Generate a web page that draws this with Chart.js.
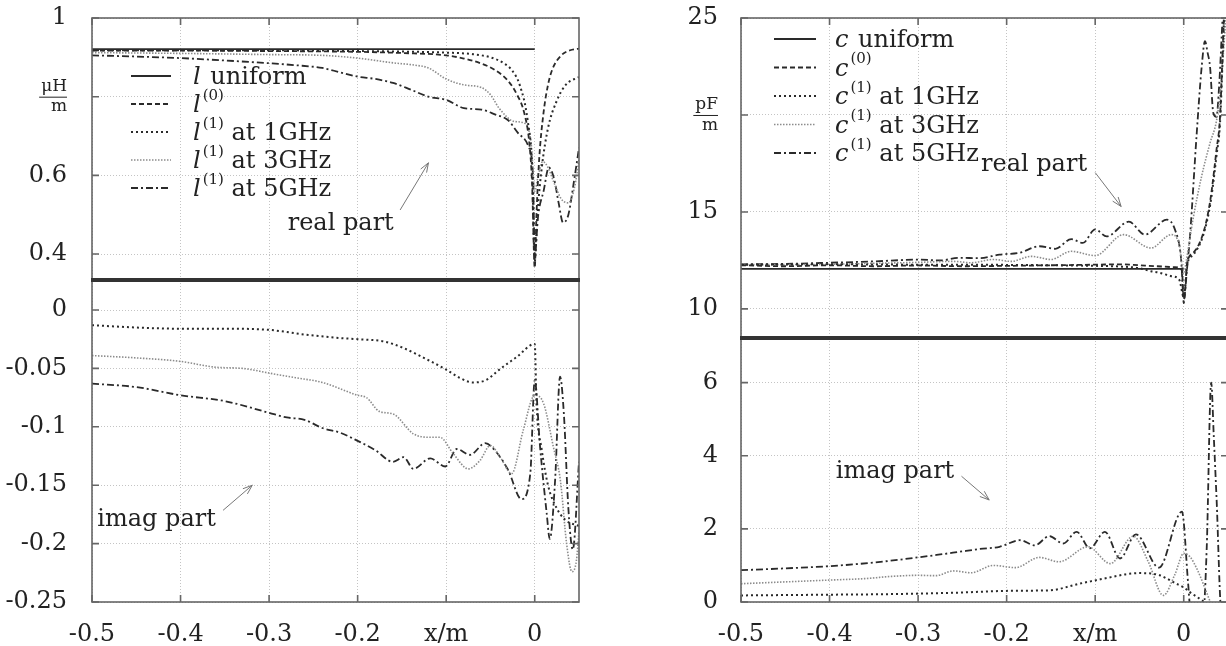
<!DOCTYPE html>
<html>
<head>
<meta charset="utf-8">
<script src="https://cdn.jsdelivr.net/npm/chart.js@4.4.1/dist/chart.umd.min.js"></script>
<style>
  body { margin: 0; background: #fff; width: 1226px; height: 646px; overflow: hidden; position: relative; }
  canvas { position: absolute; }
</style>
</head>
<body>
<canvas id="lRe" width="582" height="282" style="left:0;top:0"></canvas>
<canvas id="lIm" width="582" height="370" style="left:0;top:276px"></canvas>
<canvas id="cRe" width="630" height="340" style="left:600px;top:0"></canvas>
<canvas id="cIm" width="630" height="312" style="left:600px;top:334px"></canvas>
<script>
// ---- axes ----
const xTicks = [-0.5, -0.4, -0.3, -0.2, -0.1, 0];
const xTickLabels = ['-0.5', '-0.4', '-0.3', '-0.2', 'x/m', '0'];

const lReTicks = [0.4, 0.6, 0.8, 1];
const lReTickLabels = ['0.4', '0.6', ['μH', 'm'], '1'];
const lImTicks = [-0.25, -0.2, -0.15, -0.1, -0.05, 0];
const lImTickLabels = ['-0.25', '-0.2', '-0.15', '-0.1', '-0.05', '0'];
const cReTicks = [10, 15, 20, 25];
const cReTickLabels = ['10', '15', ['pF', 'm'], '25'];
const cImTicks = [0, 2, 4, 6];
const cImTickLabels = ['0', '2', '4', '6'];

const lLabels = ['l uniform', 'l^(0)', 'l^(1) at 1GHz', 'l^(1) at 3GHz', 'l^(1) at 5GHz'];
const cLabels = ['c uniform', 'c^(0)', 'c^(1) at 1GHz', 'c^(1) at 3GHz', 'c^(1) at 5GHz'];

// ---- l, real part ----
const lUniX = [-0.5, 0];
const lUniRe = [0.921, 0.921];
const l0X = [-0.5, -0.4, -0.3, -0.2, -0.15, -0.1, -0.08, -0.06, -0.045, -0.03, -0.02, -0.012, -0.006, -0.003, 0, 0.002, 0.005, 0.01, 0.015, 0.02, 0.03, 0.04, 0.05];
const l0Re = [0.917, 0.917, 0.916, 0.914, 0.911, 0.905, 0.897, 0.884, 0.868, 0.84, 0.805, 0.76, 0.68, 0.58, 0.365, 0.5, 0.64, 0.76, 0.83, 0.87, 0.905, 0.918, 0.922];
const l1ReX = [-0.5, -0.4, -0.3, -0.2, -0.1, -0.07, -0.05, -0.035, -0.025, -0.017, -0.008, -0.003, 0, 0.003, 0.008, 0.015, 0.025, 0.035, 0.05];
const l1Re = [0.918, 0.918, 0.918, 0.916, 0.912, 0.908, 0.9, 0.885, 0.865, 0.83, 0.74, 0.62, 0.38, 0.5, 0.62, 0.72, 0.79, 0.83, 0.85];
const l3ReX = [-0.5, -0.4, -0.3, -0.24, -0.2, -0.16, -0.135, -0.12, -0.1, -0.08, -0.06, -0.05, -0.04, -0.023, -0.012, -0.004, 0, 0.004, 0.009, 0.015, 0.022, 0.03, 0.038, 0.045, 0.05];
const l3Re = [0.912, 0.91, 0.907, 0.905, 0.898, 0.886, 0.88, 0.873, 0.845, 0.83, 0.823, 0.805, 0.77, 0.737, 0.733, 0.68, 0.56, 0.6, 0.635, 0.62, 0.58, 0.54, 0.53, 0.57, 0.64];
const l5ReX = [-0.5, -0.45, -0.4, -0.35, -0.3, -0.27, -0.24, -0.22, -0.2, -0.18, -0.16, -0.14, -0.12, -0.1, -0.08, -0.06, -0.045, -0.03, -0.019, -0.007, -0.002, 0, 0.004, 0.01, 0.016, 0.022, 0.027, 0.032, 0.038, 0.044, 0.05];
const l5Re = [0.905, 0.902, 0.898, 0.892, 0.885, 0.88, 0.873, 0.862, 0.851, 0.845, 0.835, 0.818, 0.8, 0.792, 0.771, 0.767, 0.755, 0.74, 0.708, 0.673, 0.6, 0.4, 0.5, 0.56, 0.62, 0.59, 0.53, 0.48, 0.5, 0.58, 0.67];

// ---- l, imag part ----
const l1ImX = [-0.5, -0.45, -0.4, -0.35, -0.3, -0.26, -0.22, -0.2, -0.17, -0.15, -0.12, -0.1, -0.085, -0.07, -0.055, -0.04, -0.02, 0, 0.002, 0.008, 0.015, 0.025, 0.035, 0.05];
const l1Im = [-0.013, -0.015, -0.016, -0.016, -0.017, -0.021, -0.024, -0.025, -0.027, -0.032, -0.043, -0.051, -0.058, -0.062, -0.06, -0.051, -0.04, -0.029, -0.08, -0.12, -0.15, -0.17, -0.18, -0.185];
const l3ImX = [-0.5, -0.45, -0.4, -0.36, -0.33, -0.3, -0.27, -0.24, -0.2, -0.19, -0.175, -0.16, -0.137, -0.118, -0.107, -0.092, -0.075, -0.062, -0.05, -0.039, -0.026, -0.013, 0, 0.01, 0.021, 0.029, 0.036, 0.042, 0.047, 0.05];
const l3Im = [-0.039, -0.041, -0.044, -0.049, -0.05, -0.054, -0.058, -0.062, -0.073, -0.075, -0.087, -0.089, -0.106, -0.109, -0.109, -0.123, -0.136, -0.129, -0.116, -0.126, -0.14, -0.103, -0.073, -0.08, -0.117, -0.146, -0.2, -0.224, -0.215, -0.19];
const l5ImX = [-0.5, -0.45, -0.4, -0.35, -0.3, -0.28, -0.26, -0.24, -0.22, -0.2, -0.18, -0.16, -0.148, -0.137, -0.118, -0.101, -0.088, -0.073, -0.056, -0.043, -0.03, -0.015, -0.005, 0, 0.006, 0.0135, 0.017, 0.023, 0.0286, 0.033, 0.038, 0.043, 0.05];
const l5Im = [-0.063, -0.066, -0.073, -0.078, -0.088, -0.092, -0.094, -0.101, -0.105, -0.112, -0.12, -0.13, -0.126, -0.136, -0.127, -0.134, -0.119, -0.124, -0.114, -0.122, -0.137, -0.162, -0.14, -0.06, -0.117, -0.174, -0.196, -0.146, -0.057, -0.09, -0.17, -0.205, -0.13];

// ---- c, real part ----
const cUniX = [-0.5, 0];
const cUniRe = [12.06, 12.06];
const c0X = [-0.5, -0.45, -0.4, -0.35, -0.3, -0.25, -0.2, -0.15, -0.1, -0.07, -0.05, -0.03, -0.01, -0.002, 0, 0.004, 0.011, 0.022, 0.03, 0.037, 0.041, 0.044, 0.047];
const c0Re = [12.25, 12.2, 12.25, 12.2, 12.24, 12.2, 12.22, 12.25, 12.28, 12.3, 12.25, 12.2, 12.15, 12.0, 10.3, 12.4, 12.9, 13.9, 15.6, 18.2, 19.9, 23.4, 27];
const c1ReX = [-0.5, -0.4, -0.3, -0.2, -0.15, -0.1, -0.07, -0.05, -0.037, -0.027, -0.015, -0.005, 0, 0.004, 0.011, 0.022, 0.03, 0.037, 0.041, 0.044, 0.047];
const c1Re = [12.28, 12.3, 12.28, 12.27, 12.25, 12.22, 12.18, 12.1, 11.94, 11.86, 11.7, 11.5, 10.6, 12.3, 12.8, 13.8, 15.4, 17.9, 19.6, 23, 27];
const c3ReX = [-0.5, -0.4, -0.35, -0.3, -0.26, -0.24, -0.215, -0.195, -0.172, -0.15, -0.127, -0.1, -0.068, -0.037, -0.014, -0.005, 0, 0.003, 0.01, 0.02, 0.03, 0.037, 0.042, 0.046, 0.05];
const c3Re = [12.28, 12.3, 12.35, 12.4, 12.45, 12.38, 12.55, 12.45, 12.71, 12.55, 12.97, 12.75, 13.83, 13.14, 13.83, 13.3, 11.8, 12.5, 14.5, 16.8, 18.6, 19.7, 21.5, 24, 26.5];
const c5ReX = [-0.5, -0.45, -0.4, -0.35, -0.3, -0.275, -0.254, -0.23, -0.208, -0.185, -0.163, -0.145, -0.127, -0.114, -0.1, -0.087, -0.062, -0.044, -0.019, -0.01, -0.003, 0, 0.004, 0.0073, 0.0147, 0.0203, 0.024, 0.027, 0.0297, 0.0334, 0.037, 0.04, 0.043, 0.046];
const c5Re = [12.3, 12.32, 12.38, 12.45, 12.54, 12.5, 12.63, 12.62, 12.8, 12.9, 13.23, 13.1, 13.6, 13.4, 14.1, 13.74, 14.5, 13.83, 14.6, 14.1, 12.6, 10.5, 12.2, 13.9, 19.07, 22.5, 23.8, 23.2, 22.5, 20.1, 19.9, 21.5, 24.2, 27];

// ---- c, imag part ----
const c1ImX = [-0.5, -0.45, -0.4, -0.35, -0.3, -0.25, -0.208, -0.18, -0.151, -0.118, -0.1, -0.082, -0.065, -0.049, -0.037, -0.027, -0.019, -0.01, 0, 0.008, 0.015, 0.022, 0.03];
const c1Im = [0.18, 0.19, 0.2, 0.21, 0.23, 0.26, 0.3, 0.31, 0.32, 0.5, 0.59, 0.68, 0.76, 0.79, 0.78, 0.73, 0.64, 0.52, 0.4, 0.25, 0.14, 0.02, -0.1];
const c3ImX = [-0.5, -0.45, -0.4, -0.36, -0.33, -0.3, -0.28, -0.26, -0.24, -0.215, -0.19, -0.163, -0.141, -0.108, -0.083, -0.057, -0.04, -0.023, -0.01, 0, 0.0073, 0.015, 0.022, 0.03, 0.035];
const c3Im = [0.5, 0.55, 0.6, 0.64, 0.7, 0.73, 0.72, 0.85, 0.8, 1.0, 0.94, 1.22, 1.1, 1.51, 1.05, 1.8, 1.1, 0.18, 0.75, 1.33, 1.23, 0.9, 0.5, 0, -0.3];
const c5ImX = [-0.5, -0.45, -0.4, -0.35, -0.3, -0.275, -0.254, -0.23, -0.208, -0.185, -0.168, -0.152, -0.136, -0.121, -0.106, -0.089, -0.072, -0.054, -0.028, -0.002, 0.005, 0.008, 0.022, 0.026, 0.031, 0.034, 0.037, 0.0427, 0.05];
const c5Im = [0.87, 0.92, 0.98, 1.08, 1.22, 1.3, 1.37, 1.45, 1.51, 1.69, 1.55, 1.8, 1.6, 1.92, 1.47, 1.92, 1.19, 1.85, 0.94, 2.47, 0.5, -0.3, -0.3, 1.5, 6.0, 4.5, 2.88, -0.3, -0.3];

// ---- drawing ----
const serif = 'DejaVu Serif';
const tickFont = { family: serif, size: 24 };
const unitFont = { family: serif, size: 17 };
const ink = '#222';

const lineStyles = [
  { borderColor: '#2a2a2a', borderWidth: 1.8, borderDash: [] },
  { borderColor: '#2a2a2a', borderWidth: 1.8, borderDash: [5, 3] },
  { borderColor: '#2a2a2a', borderWidth: 2, borderDash: [2, 3] },
  { borderColor: '#8c8c8c', borderWidth: 1.6, borderDash: [1.5, 1.5] },
  { borderColor: '#2a2a2a', borderWidth: 1.8, borderDash: [7, 3, 2, 3] }
];

function pts(xs, ys) {
  return xs.map((x, i) => ({ x: x, y: ys[i] }));
}

function series(label, style, xs, ys) {
  return Object.assign({ label: label, data: pts(xs, ys), fill: false }, lineStyles[style]);
}

// rich text: italic variable, optional superscript "(n)", rest upright
function drawRich(ctx, str, x, y) {
  const m = str.match(/^(\w)(\^(\(\d\)))?(.*)$/);
  ctx.textBaseline = 'middle';
  ctx.textAlign = 'left';
  ctx.fillStyle = ink;
  ctx.font = 'italic 24px "' + serif + '"';
  ctx.fillText(m[1], x, y);
  x += ctx.measureText(m[1]).width + 2;
  if (m[3]) {
    ctx.font = '15px "' + serif + '"';
    ctx.fillText(m[3], x, y - 10);
    x += ctx.measureText(m[3]).width;
  }
  ctx.font = '24px "' + serif + '"';
  ctx.fillText(m[4], x, y);
}

const framePlugin = {
  id: 'frame',
  afterDraw(chart, args, opts) {
    const { ctx, chartArea: a } = chart;
    const x = chart.scales.x, y = chart.scales.y;
    ctx.save();
    ctx.strokeStyle = '#666';
    ctx.lineWidth = 1.6;
    ctx.strokeRect(a.left, a.top, a.width, a.height);
    ctx.beginPath();
    x.ticks.forEach(t => {
      const px = x.getPixelForValue(t.value);
      if (opts.xTop) { ctx.moveTo(px, a.top); ctx.lineTo(px, a.top + 7); }
      if (opts.xBottom) { ctx.moveTo(px, a.bottom); ctx.lineTo(px, a.bottom - 7); }
    });
    y.ticks.forEach(t => {
      const py = y.getPixelForValue(t.value);
      ctx.moveTo(a.left, py); ctx.lineTo(a.left + 7, py);
      ctx.moveTo(a.right, py); ctx.lineTo(a.right - 7, py);
    });
    ctx.stroke();
    if (opts.sepTop) {
      ctx.strokeStyle = '#333';
      ctx.lineWidth = 4;
      ctx.beginPath();
      ctx.moveTo(a.left - 1, a.top);
      ctx.lineTo(a.right + 1, a.top);
      ctx.stroke();
    }
    // fraction bar of the unit label
    if (opts.unitAt !== undefined) {
      const py = y.getPixelForValue(opts.unitAt);
      const right = a.left - y.options.ticks.padding;
      ctx.font = '17px "' + serif + '"';
      const w = ctx.measureText(opts.unitText).width + 2;
      ctx.strokeStyle = ink;
      ctx.lineWidth = 1;
      ctx.beginPath();
      ctx.moveTo(right - w, py + 0.5);
      ctx.lineTo(right, py + 0.5);
      ctx.stroke();
    }
    ctx.restore();
  }
};

const notesPlugin = {
  id: 'notes',
  afterDraw(chart, args, opts) {
    const { ctx, chartArea: a } = chart;
    const x = chart.scales.x, y = chart.scales.y;
    ctx.save();
    if (opts.legend) {
      const L = opts.legend;
      chart.data.datasets.forEach((ds, i) => {
        const ry = a.top + L.top + i * L.row;
        ctx.strokeStyle = ds.borderColor;
        ctx.lineWidth = ds.borderWidth;
        ctx.setLineDash(ds.borderDash);
        ctx.beginPath();
        ctx.moveTo(a.left + L.left, ry);
        ctx.lineTo(a.left + L.left + L.sample, ry);
        ctx.stroke();
        ctx.setLineDash([]);
        drawRich(ctx, ds.label, a.left + L.left + L.sample + L.gap, ry + 2);
      });
    }
    (opts.items || []).forEach(n => {
      ctx.fillStyle = ink;
      ctx.font = '24px "' + serif + '"';
      ctx.textBaseline = 'middle';
      ctx.textAlign = 'left';
      ctx.fillText(n.text, x.getPixelForValue(n.x), y.getPixelForValue(n.y));
      const x0 = x.getPixelForValue(n.from[0]), y0 = y.getPixelForValue(n.from[1]);
      const x1 = x.getPixelForValue(n.to[0]), y1 = y.getPixelForValue(n.to[1]);
      const ang = Math.atan2(y1 - y0, x1 - x0);
      ctx.strokeStyle = '#777';
      ctx.lineWidth = 1;
      ctx.beginPath();
      ctx.moveTo(x0, y0);
      ctx.lineTo(x1, y1);
      ctx.moveTo(x1 - 10 * Math.cos(ang - 0.35), y1 - 10 * Math.sin(ang - 0.35));
      ctx.lineTo(x1, y1);
      ctx.lineTo(x1 - 10 * Math.cos(ang + 0.35), y1 - 10 * Math.sin(ang + 0.35));
      ctx.stroke();
    });
    ctx.restore();
  }
};

function xScale(showLabels, height) {
  return {
    type: 'linear', min: -0.5, max: 0.05,
    afterBuildTicks: s => { s.ticks = xTicks.map(v => ({ value: v })); },
    afterFit: s => { s.height = height; s.paddingLeft = 0; s.paddingRight = 0; },
    ticks: {
      display: showLabels, padding: 18, color: ink, font: tickFont, maxRotation: 0, autoSkip: false,
      callback: (v, i) => xTickLabels[i]
    },
    grid: { color: '#c4c4c4', lineWidth: 1, drawTicks: false },
    border: { display: false, dash: [1, 2] }
  };
}

function yScale(min, max, ticks, labels, width, padding) {
  return {
    type: 'linear', min: min, max: max,
    afterBuildTicks: s => { s.ticks = ticks.map(v => ({ value: v })); },
    afterFit: s => { s.width = width; s.paddingTop = 0; s.paddingBottom = 0; },
    ticks: {
      padding: padding, color: ink, autoSkip: false,
      font: c => (Array.isArray(labels[c.index]) ? unitFont : tickFont),
      callback: (v, i) => labels[i]
    },
    grid: { color: '#c4c4c4', lineWidth: 1, drawTicks: false },
    border: { display: false, dash: [1, 2] }
  };
}

function makeChart(id, datasets, padding, x, y, frame, notes) {
  return new Chart(document.getElementById(id), {
    type: 'line',
    data: { datasets: datasets },
    options: {
      responsive: false,
      animation: false,
      devicePixelRatio: 1,
      layout: { padding: padding },
      elements: { point: { radius: 0 }, line: { cubicInterpolationMode: 'monotone' } },
      plugins: { legend: { display: false }, tooltip: { enabled: false }, frame: frame, notes: notes },
      scales: { x: x, y: y }
    },
    plugins: [framePlugin, notesPlugin]
  });
}

makeChart('lRe', [
    series(lLabels[0], 0, lUniX, lUniRe),
    series(lLabels[1], 1, l0X, l0Re),
    series(lLabels[2], 2, l1ReX, l1Re),
    series(lLabels[3], 3, l3ReX, l3Re),
    series(lLabels[4], 4, l5ReX, l5Re)
  ],
  { top: 18, right: 3, bottom: 0, left: 0 },
  xScale(false, 2),
  yScale(0.334, 1, lReTicks, lReTickLabels, 92, 25),
  { xTop: true, unitAt: 0.8, unitText: 'μH' },
  { legend: { left: 39, top: 58, row: 28, sample: 40, gap: 22 },
    items: [{ text: 'real part', x: -0.279, y: 0.477, from: [-0.152, 0.512], to: [-0.12, 0.632] }] }
);

makeChart('lIm', [
    series(lLabels[2], 2, l1ImX, l1Im),
    series(lLabels[3], 3, l3ImX, l3Im),
    series(lLabels[4], 4, l5ImX, l5Im)
  ],
  { top: 4, right: 3, bottom: 0, left: 0 },
  xScale(true, 44),
  yScale(-0.25, 0.0257, lImTicks, lImTickLabels, 92, 25),
  { xBottom: true, sepTop: true },
  { items: [{ text: 'imag part', x: -0.494, y: -0.18, from: [-0.352, -0.1715], to: [-0.319, -0.15] }] }
);

makeChart('cRe', [
    series(cLabels[0], 0, cUniX, cUniRe),
    series(cLabels[1], 1, c0X, c0Re),
    series(cLabels[2], 2, c1ReX, c1Re),
    series(cLabels[3], 3, c3ReX, c3Re),
    series(cLabels[4], 4, c5ReX, c5Re)
  ],
  { top: 18, right: 2, bottom: 0, left: 0 },
  xScale(false, 2),
  yScale(8.5, 25, cReTicks, cReTickLabels, 141, 23),
  { xTop: true, unitAt: 20, unitText: 'pF' },
  { legend: { left: 33, top: 21, row: 28.5, sample: 42, gap: 19 },
    items: [{ text: 'real part', x: -0.229, y: 17.44, from: [-0.1, 17.03], to: [-0.0707, 15.28] }] }
);

makeChart('cIm', [
    series(cLabels[2], 2, c1ImX, c1Im),
    series(cLabels[3], 3, c3ImX, c3Im),
    series(cLabels[4], 4, c5ImX, c5Im)
  ],
  { top: 4, right: 2, bottom: 0, left: 0 },
  xScale(true, 44),
  yScale(0, 7.22, cImTicks, cImTickLabels, 141, 23),
  { xBottom: true, sepTop: true },
  { items: [{ text: 'imag part', x: -0.393, y: 3.56, from: [-0.251, 3.44], to: [-0.2197, 2.79] }] }
);
</script>
</body>
</html>
